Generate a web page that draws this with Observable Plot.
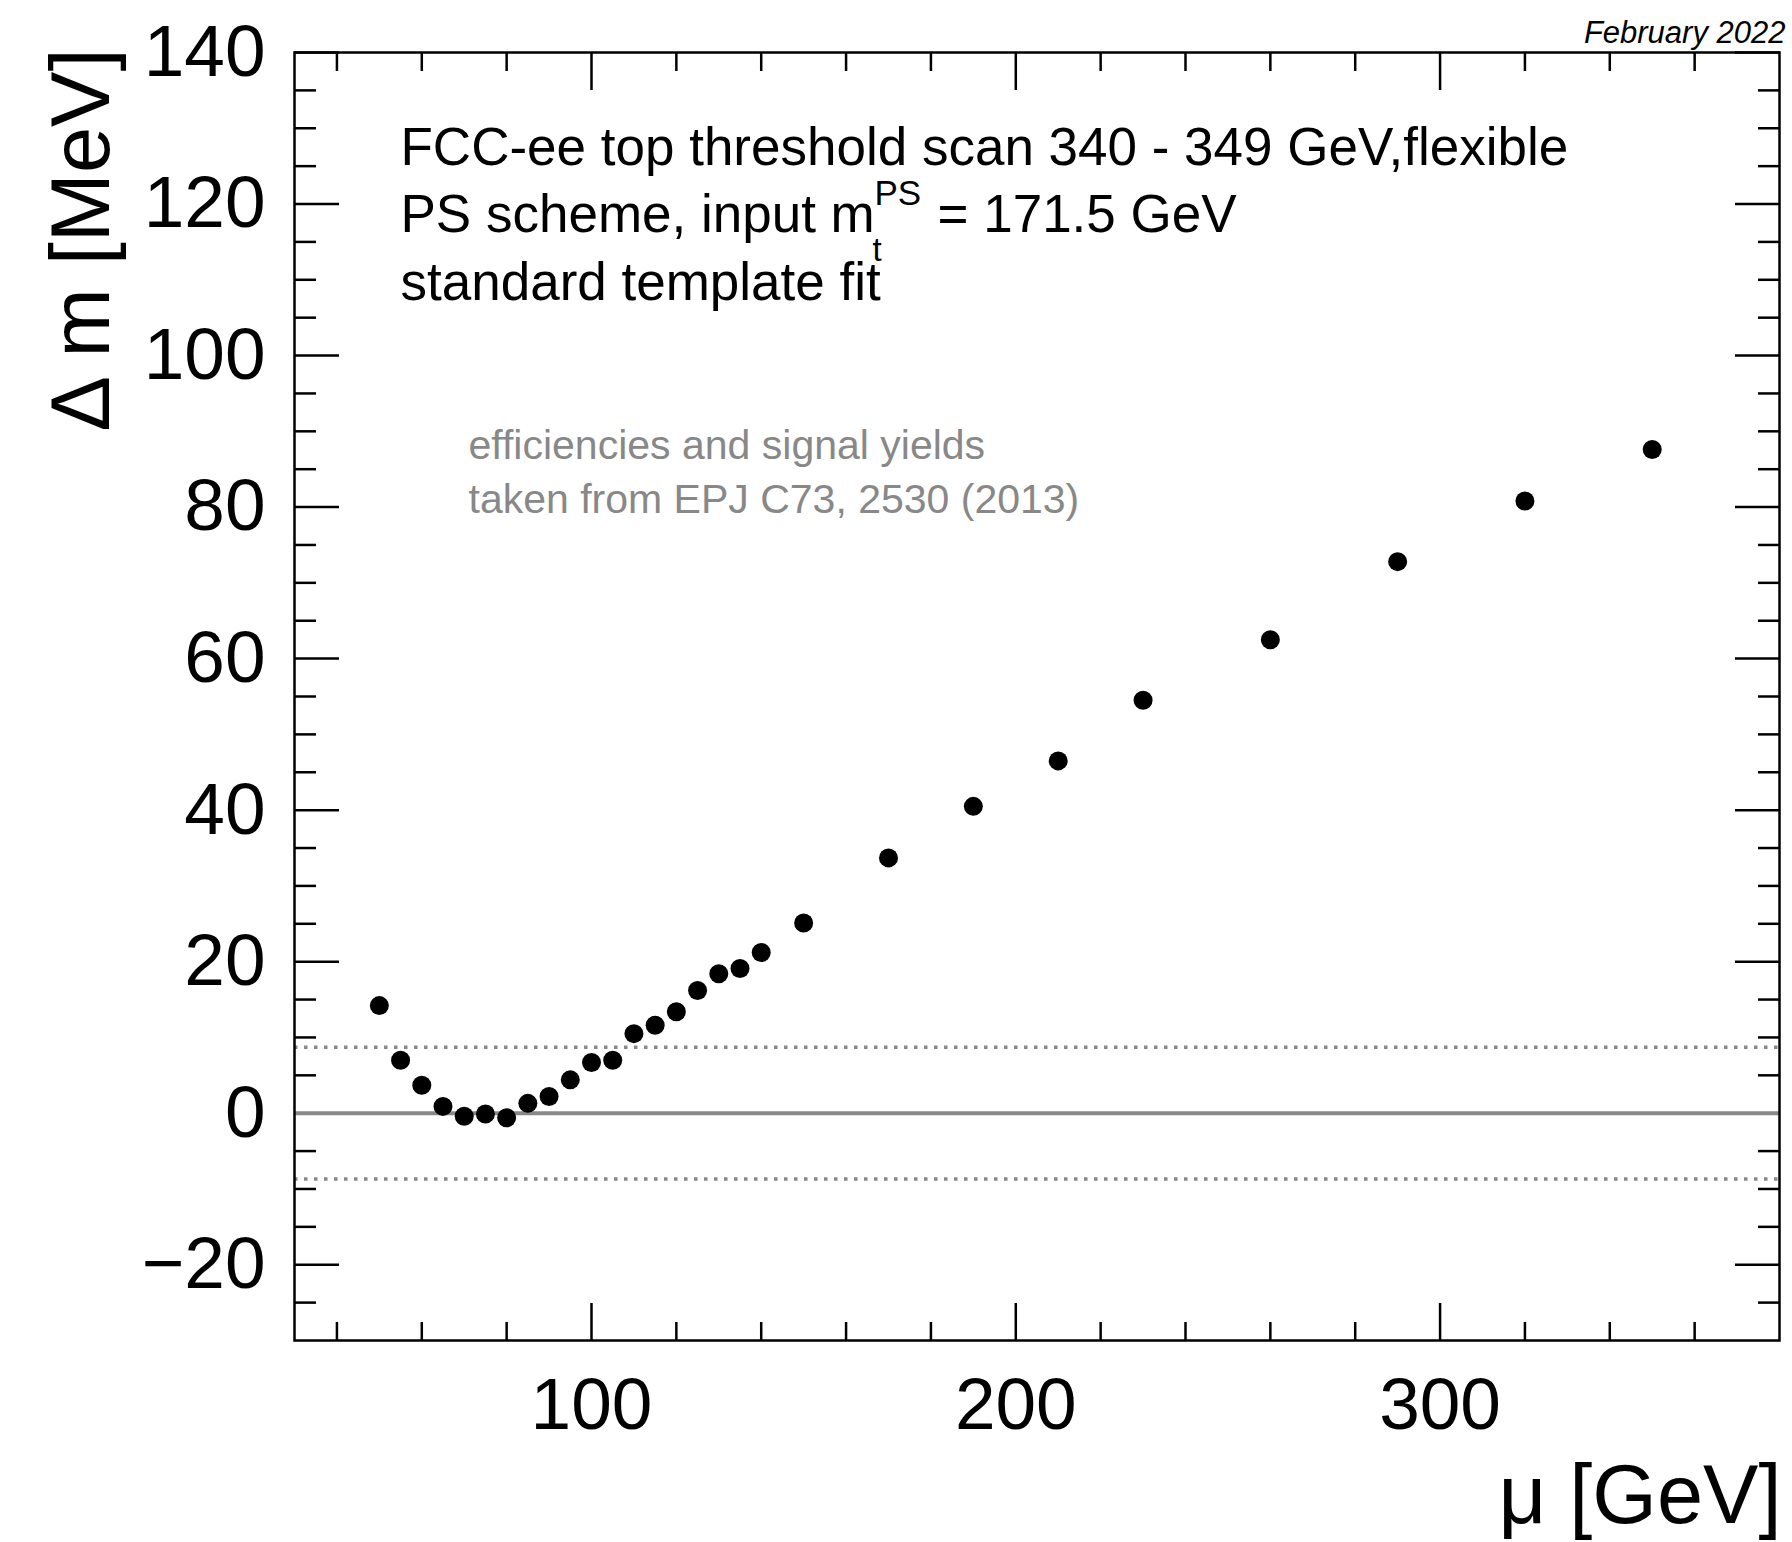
<!DOCTYPE html>
<html>
<head>
<meta charset="utf-8">
<script src="https://cdn.jsdelivr.net/npm/d3@7"></script>
<script src="https://cdn.jsdelivr.net/npm/@observablehq/plot@0.6"></script>
<style>
  html, body { margin: 0; padding: 0; background: #fff; }
  svg { display: block; }
</style>
</head>
<body>
<div id="chart"></div>
<script>
// renormalization scale mu [GeV]
const mu = [50, 55, 60, 65, 70, 75, 80, 85, 90, 95, 100, 105, 110, 115, 120, 125, 130, 135, 140,
            150, 170, 190, 210, 230, 260, 290, 320, 350];
// mass shift Delta m [MeV]
const deltaM = [14.2, 7.0, 3.7, 0.9, -0.4, -0.1, -0.6, 1.3, 2.2, 4.4, 6.7, 7.0, 10.5, 11.6, 13.4, 16.2, 18.4, 19.1, 21.2,
                25.1, 33.7, 40.5, 46.5, 54.5, 62.5, 72.8, 80.8, 87.6];

const xMajorTicks = [100, 200, 300];
const xMinorTicks = [40, 60, 80, 120, 140, 160, 180, 220, 240, 260, 280, 320, 340, 360];
const yMajorTicks = [-20, 0, 20, 40, 60, 80, 100, 120, 140];
const yMinorTicks = [-25, -15, -10, -5, 5, 10, 15, 25, 30, 35, 45, 50, 55, 65, 70, 75, 85, 90, 95, 105, 110, 115, 125, 130, 135];
const referenceLine = [0];
const bandLimits = [-8.7, 8.7];

const infoLines = ["FCC-ee top threshold scan 340 - 349 GeV,flexible", "PS scheme, input m", "standard template fit"];
const infoSup = "PS";
const infoSub = "t";
const infoTail = "= 171.5 GeV";
const sourceLines = ["efficiencies and signal yields", "taken from EPJ C73, 2530 (2013)"];
const dateLabel = "February 2022";
const xLabel = "\u03BC [GeV]";
const yLabel = "\u0394 m [MeV]";

const FONT = "'Liberation Sans', Arial, Helvetica, sans-serif";
const idx = d3.range(mu.length);

const marks = [
  // inward ticks on all four sides (ROOT style)
  Plot.axisY({ticks: yMajorTicks, anchor: "left", tickSize: 45, dx: 45, text: null, label: null, strokeWidth: 2.5}),
  Plot.axisY({ticks: yMinorTicks, anchor: "left", tickSize: 22, dx: 22, text: null, label: null, strokeWidth: 2.5}),
  Plot.axisY({ticks: yMajorTicks, anchor: "right", tickSize: 45, dx: -45, text: null, label: null, strokeWidth: 2.5}),
  Plot.axisY({ticks: yMinorTicks, anchor: "right", tickSize: 22, dx: -22, text: null, label: null, strokeWidth: 2.5}),
  Plot.axisX({ticks: xMajorTicks, anchor: "bottom", tickSize: 37, dy: -37, text: null, label: null, strokeWidth: 2.5}),
  Plot.axisX({ticks: xMinorTicks, anchor: "bottom", tickSize: 18, dy: -18, text: null, label: null, strokeWidth: 2.5}),
  Plot.axisX({ticks: xMajorTicks, anchor: "top", tickSize: 37, dy: 37, text: null, label: null, strokeWidth: 2.5}),
  Plot.axisX({ticks: xMinorTicks, anchor: "top", tickSize: 18, dy: 18, text: null, label: null, strokeWidth: 2.5}),
  // reference lines drawn over the ticks
  Plot.ruleY(bandLimits, {stroke: "#888888", strokeWidth: 3.5, strokeDasharray: "3.5,6.5"}),
  Plot.ruleY(referenceLine, {stroke: "#888888", strokeWidth: 4}),
  Plot.dot(idx, {x: i => mu[i], y: i => deltaM[i], r: 9.5, fill: "black", stroke: "none"}),
  // tick labels
  Plot.axisY({ticks: yMajorTicks, anchor: "left", tickSize: 0, tickPadding: 29, label: null, fontSize: 73,
              fill: "black", tickFormat: d => d < 0 ? "\u2212" + Math.abs(d) : String(d)}),
  Plot.axisX({ticks: xMajorTicks, anchor: "bottom", tickSize: 0, tickPadding: 37, label: null, fontSize: 73,
              fill: "black", tickFormat: d => String(d)}),
  Plot.frame({stroke: "black", strokeWidth: 2.5}),
  // axis titles
  Plot.text([yLabel], {frameAnchor: "top-left", text: d => d, rotate: -90, textAnchor: "end", lineAnchor: "bottom",
                       dx: -186, dy: -4, fontSize: 83, fill: "black"}),
  Plot.text([xLabel], {frameAnchor: "bottom-right", text: d => d, textAnchor: "end", lineAnchor: "bottom",
                       dx: 2, dy: 182, fontSize: 83, fill: "black"}),
  Plot.text([dateLabel], {frameAnchor: "top-right", text: d => d, textAnchor: "end", lineAnchor: "bottom",
                          dx: 6, dy: -10, fontSize: 31, fontStyle: "italic", fill: "black"})
];

// info block
infoLines.forEach((line, i) => {
  marks.push(Plot.text([line], {frameAnchor: "top-left", text: d => d, textAnchor: "start", lineAnchor: "bottom",
                                dx: 106, dy: 112 + i * 67.5, fontSize: 53, fill: "black"}));
});
marks.push(Plot.text([infoSup], {frameAnchor: "top-left", text: d => d, textAnchor: "start", lineAnchor: "bottom",
                                 dx: 580, dy: 152, fontSize: 35, fill: "black"}));
marks.push(Plot.text([infoSub], {frameAnchor: "top-left", text: d => d, textAnchor: "start", lineAnchor: "bottom",
                                 dx: 578, dy: 208, fontSize: 33, fill: "black"}));
marks.push(Plot.text([infoTail], {frameAnchor: "top-left", text: d => d, textAnchor: "start", lineAnchor: "bottom",
                                  dx: 643, dy: 179.5, fontSize: 53, fill: "black"}));
sourceLines.forEach((line, i) => {
  marks.push(Plot.text([line], {frameAnchor: "top-left", text: d => d, textAnchor: "start", lineAnchor: "bottom",
                                dx: 174, dy: 406 + i * 54, fontSize: 41, fill: "#888888"}));
});

const chart = Plot.plot({
  width: 1792,
  height: 1542,
  marginLeft: 294,
  marginRight: 13,
  marginTop: 52,
  marginBottom: 202,
  style: {fontFamily: FONT, background: "white", color: "black"},
  x: {domain: [30, 380], axis: null},
  y: {domain: [-30, 140], axis: null},
  marks
});
document.getElementById("chart").appendChild(chart);
</script>
</body>
</html>
